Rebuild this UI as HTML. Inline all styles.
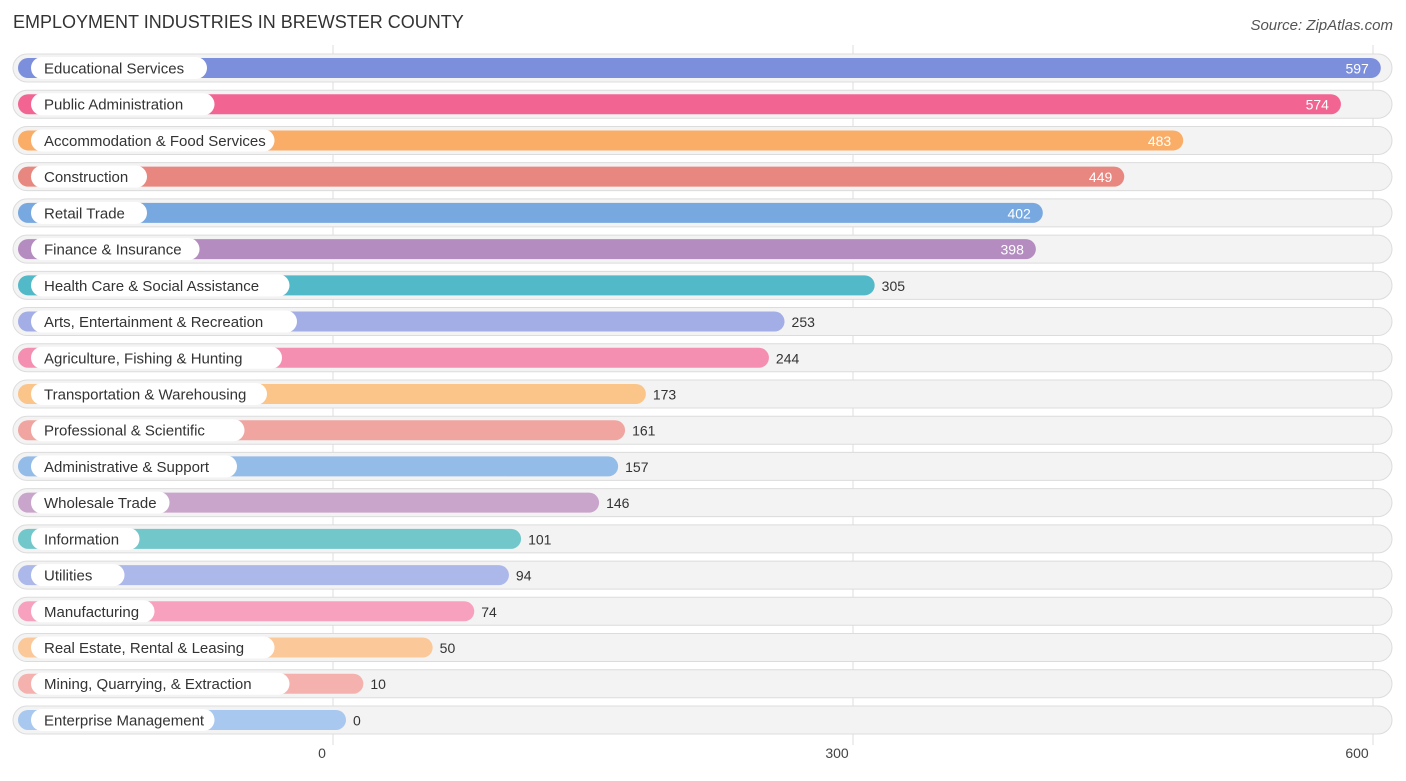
<!DOCTYPE html>
<html><head><meta charset="utf-8"><style>
body{margin:0;background:#fff;font-family:"Liberation Sans",sans-serif;}
</style></head><body>
<svg id="c" width="1406" height="776" xmlns="http://www.w3.org/2000/svg">
<text x="13" y="28" font-size="18" fill="#333">EMPLOYMENT INDUSTRIES IN BREWSTER COUNTY</text>
<text x="1393" y="30" font-size="15" fill="#555" font-style="italic" text-anchor="end">Source: ZipAtlas.com</text>
<g id="grid"></g><g id="rows"></g><g id="ticks"></g>
</svg>
<script>
const categories=["Educational Services","Public Administration","Accommodation & Food Services","Construction","Retail Trade","Finance & Insurance","Health Care & Social Assistance","Arts, Entertainment & Recreation","Agriculture, Fishing & Hunting","Transportation & Warehousing","Professional & Scientific","Administrative & Support","Wholesale Trade","Information","Utilities","Manufacturing","Real Estate, Rental & Leasing","Mining, Quarrying, & Extraction","Enterprise Management"];
const values=[597,574,483,449,402,398,305,253,244,173,161,157,146,101,94,74,50,10,0];
const colors=["#7b8fdc","#f26592","#f9ad67","#e8877f","#78a8e0","#b48cc0","#52b9c8","#a3aee6","#f48fb1","#fbc488","#f0a5a0","#94bce8","#c9a5cc","#72c7ca","#adb8ea","#f7a1bf","#fbc899","#f4b1ae","#a9c8ef"];
const tickValues=[0,300,600];
const NS="http://www.w3.org/2000/svg";
const gx=v=>333+v*520/300;
const bx=v=>346+v*520/300;
const rowY=i=>68+i*36.22;
function mk(t,a,p){const e=document.createElementNS(NS,t);for(const k in a)e.setAttribute(k,a[k]);p.appendChild(e);return e;}
const grid=document.getElementById('grid'),rows=document.getElementById('rows'),ticks=document.getElementById('ticks');
tickValues.forEach(t=>{
 const l=mk('line',{x1:gx(t),x2:gx(t),y1:45,y2:745,stroke:'#ddd','stroke-width':1},grid);
 
 
 const tx=mk('text',{x:gx(t)-(t===0?11:16),y:758,'font-size':14,fill:'#444','text-anchor':'middle'},ticks);
 tx.textContent=t;
 
 
});
categories.forEach((c,i)=>{
 const y=rowY(i);
 const g=mk('g',{},rows);
 
 
 mk('rect',{x:13,y:y-14,width:1379,height:28,rx:14,fill:'#f3f3f3',stroke:'#dcdcdc','stroke-width':1},g);
 const end=bx(values[i]);
 const b=mk('rect',{x:18,y:y-10,width:end-18,height:20,rx:10,fill:colors[i]},g);
 
 
 const tw=c.length*7.5+26;
 mk('rect',{x:31,y:y-11,width:tw,height:22,rx:11,fill:'#fff'},g);
 const lt=mk('text',{x:44,y:y+5.5,'font-size':15,fill:'#333'},g);
 lt.textContent=c;
 
 
 const inside=values[i]>=398;
 const vt=mk('text',{x:inside?end-12:end+7,y:y+5.5,'font-size':14,fill:inside?'#fff':'#333','text-anchor':inside?'end':'start'},g);
 vt.textContent=values[i];
 
 
});
</script>
</body></html>
